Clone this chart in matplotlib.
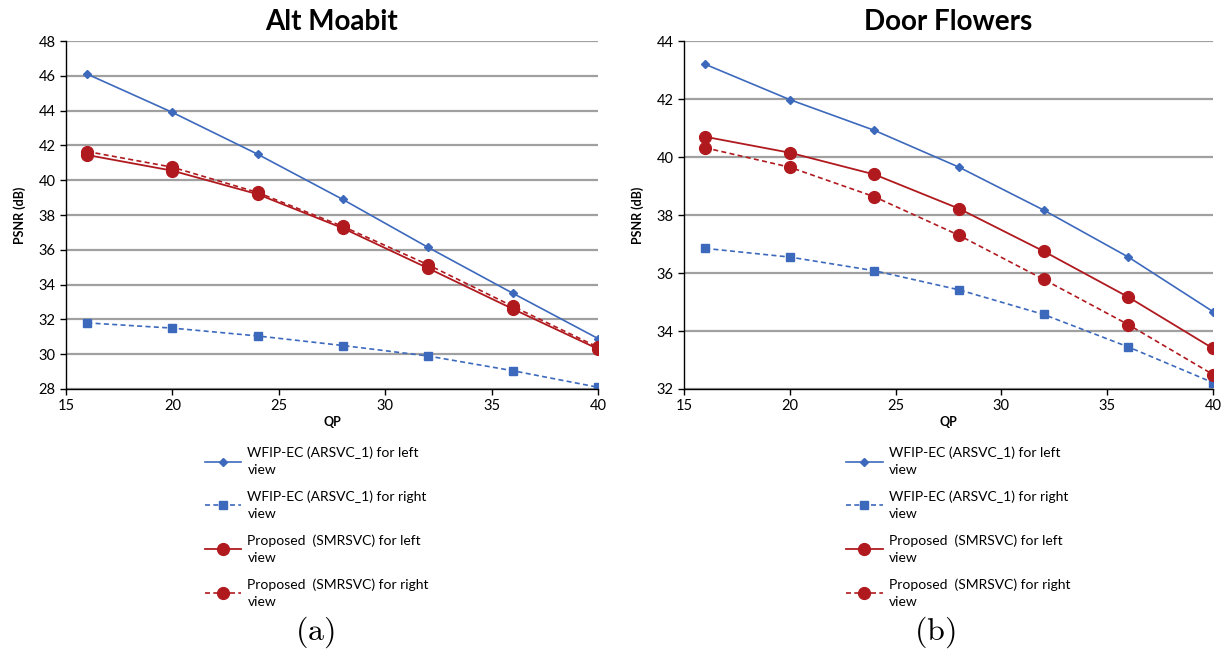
import numpy as np
import matplotlib
matplotlib.use("Agg")
import matplotlib.pyplot as plt

plt.rcParams['font.family'] = ['Lato', 'DejaVu Sans']
plt.rcParams['mathtext.fontset'] = 'cm'

qp = [16, 20, 24, 28, 32, 36, 40]

# Alt Moabit
alt_wfip_left = [46.1, 43.9, 41.5, 38.9, 36.15, 33.5, 30.9]
alt_wfip_right = [31.8, 31.5, 31.05, 30.5, 29.9, 29.05, 28.1]
alt_prop_left = [41.45, 40.55, 39.2, 37.25, 34.95, 32.6, 30.3]
alt_prop_right = [41.65, 40.75, 39.3, 37.35, 35.15, 32.75, 30.4]

# Door Flowers
door_wfip_left = [43.2, 41.98, 40.92, 39.65, 38.17, 36.55, 34.67]
door_wfip_right = [36.85, 36.55, 36.08, 35.42, 34.57, 33.45, 32.22]
door_prop_left = [40.7, 40.15, 39.4, 38.22, 36.75, 35.17, 33.4]
door_prop_right = [40.32, 39.65, 38.63, 37.3, 35.78, 34.22, 32.5]

labels = ['WFIP-EC (ARSVC_1) for left\nview',
          'WFIP-EC (ARSVC_1) for right\nview',
          'Proposed  (SMRSVC) for left\nview',
          'Proposed  (SMRSVC) for right\nview']

blue = '#3D69BD'
red = '#B01A1F'

fig = plt.figure(figsize=(12.24, 6.54), dpi=100)
ax1 = fig.add_axes([0.0539, 0.4052, 0.4347, 0.532])
ax2 = fig.add_axes([0.5588, 0.4052, 0.4322, 0.532])


def draw(ax, title, wl, wr, pl, pr, ylim, legx):
    h1, = ax.plot(qp, wl, color=blue, lw=1.2, marker='D', ms=4, label=labels[0])
    h2, = ax.plot(qp, wr, color=blue, lw=1.2, ls=(0, (3, 2)), marker='s', ms=5.5, label=labels[1])
    h3, = ax.plot(qp, pl, color=red, lw=1.3, marker='o', ms=8.5, label=labels[2])
    h4, = ax.plot(qp, pr, color=red, lw=1.2, ls=(0, (3, 2)), marker='o', ms=8.5, label=labels[3])
    ax.set_xlim(15, 40)
    ax.set_ylim(*ylim)
    ax.set_yticks(np.arange(ylim[0], ylim[1] + 0.1, 2))
    ax.set_xticks([15, 20, 25, 30, 35, 40])
    ax.grid(axis='y', color='#A0A0A0', lw=1.6)
    ax.set_axisbelow(True)
    for s in ['top', 'right']:
        ax.spines[s].set_visible(False)
    ax.spines['left'].set_linewidth(1.0)
    ax.spines['bottom'].set_linewidth(1.0)
    ax.tick_params(labelsize=10.5, length=4, width=1, direction='out')
    ax.set_title(title, fontsize=20, fontweight='bold', pad=8)
    ax.set_ylabel('PSNR (dB)', fontsize=9, fontweight='bold', labelpad=9)
    ax.set_xlabel('QP', fontsize=9, fontweight='bold', labelpad=2)
    leg = fig.legend(handles=[h1, h2, h3, h4], loc='upper left',
                     bbox_to_anchor=(legx, 0.326), bbox_transform=fig.transFigure,
                     frameon=False, fontsize=10, handlelength=2.6, handletextpad=0.45,
                     labelspacing=1.0, borderaxespad=0)
    for t in leg.get_texts():
        t.set_linespacing(1.55)


draw(ax1, 'Alt Moabit', alt_wfip_left, alt_wfip_right, alt_prop_left, alt_prop_right, (28, 48), 0.163)
draw(ax2, 'Door Flowers', door_wfip_left, door_wfip_right, door_prop_left, door_prop_right, (32, 44), 0.687)

fig.text(0.257, 0.022, r'$\mathrm{(a)}$', fontsize=23, ha='center')
fig.text(0.764, 0.022, r'$\mathrm{(b)}$', fontsize=23, ha='center')

fig.savefig('out.png', dpi=100)
